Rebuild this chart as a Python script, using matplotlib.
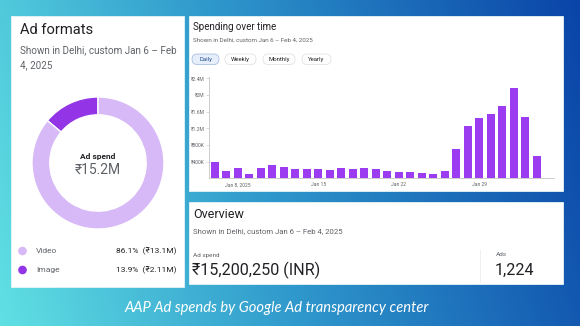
import numpy as np
import matplotlib.pyplot as plt
from matplotlib.patches import Rectangle, FancyBboxPatch, Circle
from matplotlib.colors import LinearSegmentedColormap

plt.rcParams['font.family'] = ['Roboto', 'DejaVu Sans']

W, H = 580, 326  # canvas size in pixels

# -----------------------------------------------------------------------
# Data
# -----------------------------------------------------------------------
formats = ["Image", "Video"]
format_share = [13.9, 86.1]
format_amount = ["₹2.11M", "₹13.1M"]
format_colors = ["#9334e6", "#d6b9f6"]
total_short = "₹15.2M"

day_labels = ["Jan 6", "Jan 7", "Jan 8", "Jan 9", "Jan 10", "Jan 11", "Jan 12",
              "Jan 13", "Jan 14", "Jan 15", "Jan 16", "Jan 17", "Jan 18",
              "Jan 19", "Jan 20", "Jan 21", "Jan 22", "Jan 23", "Jan 24",
              "Jan 25", "Jan 26", "Jan 27", "Jan 28", "Jan 29", "Jan 30",
              "Jan 31", "Feb 1", "Feb 2", "Feb 3", "Feb 4"]
daily_spend_k = [392, 184, 240, 96, 240, 312, 280, 216, 224, 216, 208, 256,
                 232, 240, 232, 184, 144, 152, 136, 112, 176, 696, 1248, 1456,
                 1544, 1728, 2168, 1464, 544, 0]
tick_days = ["Jan 8", "Jan 15", "Jan 22", "Jan 29"]
tick_text = ["Jan 8, 2025", "Jan 15", "Jan 22", "Jan 29"]
ytick_values_k = [400, 800, 1200, 1600, 2000, 2400]
ytick_text = ["₹400K", "₹800K", "₹1.2M", "₹1.6M", "₹2M", "₹2.4M"]
periods = ["Daily", "Weekly", "Monthly", "Yearly"]

total_spend = "₹15,200,250 (INR)"
ads_count = "1,224"
subtitle = "Shown in Delhi, custom Jan 6 – Feb 4, 2025"
caption = "AAP Ad spends by Google Ad transparency center"

DARK = "#202124"
GREY = "#5f6368"
BAR = "#9b3cf0"


def fx(x):
    return x / W


def fy(y):
    return 1 - y / H


fig = plt.figure(figsize=(W / 100, H / 100), dpi=100)

# background canvas in pixel coordinates
bg = fig.add_axes([0, 0, 1, 1], zorder=-10)
bg.set_xlim(0, W)
bg.set_ylim(H, 0)
bg.axis("off")
xx, yy = np.meshgrid(np.linspace(0, 1, 300), np.linspace(0, 1, 170))
grad = 0.86 * xx + 0.14 * (1 - yy)
cmap = LinearSegmentedColormap.from_list(
    "bg", [(0, "#60e0e3"), (0.45, "#2f98cc"), (1, "#0a44a8")])
bg.imshow(grad, cmap=cmap, extent=(0, W, H, 0), aspect="auto", vmin=0, vmax=1)

# cards
for x0, y0, x1, y1 in [(11, 16, 184, 287), (189, 16, 563, 191), (189, 202, 563, 284)]:
    bg.add_patch(Rectangle((x0, y0), x1 - x0, y1 - y0, facecolor="white",
                           edgecolor="#e6f4f7", lw=0.6))

# --- Ad formats card ---
bg.text(20, 30, "Ad formats", fontsize=10.6, color=DARK, va="center")
bg.text(20, 50, "Shown in Delhi, custom Jan 6 – Feb", fontsize=7.1, color=GREY, va="center")
bg.text(20, 65, "4, 2025", fontsize=7.1, color=GREY, va="center")

cx, cy, r = 98, 163, 66
dax = fig.add_axes([fx(cx - r), fy(cy + r), 2 * r / W, 2 * r / H])
dax.pie(format_share, colors=format_colors, startangle=90, counterclock=True,
        wedgeprops=dict(width=0.27, edgecolor="white", linewidth=1))
dax.set_xlim(-1, 1)
dax.set_ylim(-1, 1)
dax.set_aspect("equal")
dax.axis("off")
bg.text(cx, 156, "Ad spend", fontsize=6, fontweight="bold", color=DARK,
        ha="center", va="center")
bg.text(cx, 170, total_short, fontsize=10, color=GREY, ha="center", va="center")

for i, row_y in [(1, 251), (0, 270)]:
    bg.add_patch(Circle((22.5, row_y), 3.6, color=format_colors[i]))
    bg.text(36, row_y, formats[i], fontsize=6, color=GREY, va="center")
    bg.text(176, row_y, f"{format_share[i]}%  ({format_amount[i]})", fontsize=6,
            color=DARK, ha="right", va="center")

# --- Spending over time card ---
bg.text(193, 27, "Spending over time", fontsize=7, color=DARK, va="center")
bg.text(193, 40, subtitle, fontsize=4.5, color=GREY, va="center")
pill_x = [(192, 219), (225, 256), (263, 295), (302, 331)]
for i, (p0, p1) in enumerate(pill_x):
    active = i == 0
    bg.add_patch(FancyBboxPatch((p0, 54), p1 - p0, 10.5,
                                boxstyle="round,pad=0,rounding_size=5.2",
                                facecolor="#e6eefb" if active else "white",
                                edgecolor="#a9bfe3" if active else "#e3e3e3", lw=0.6))
    bg.text((p0 + p1) / 2, 59.3, periods[i], fontsize=4.3,
            color="#1f4e8c" if active else DARK, ha="center", va="center")

bax = fig.add_axes([fx(209), fy(178.3), 345 / W, 101.6 / H])
pos = np.arange(len(day_labels))
bax.bar(pos, np.array(daily_spend_k) * 1000, width=0.66, color=BAR)
bax.set_xlim(-0.5, len(day_labels) - 0.5)
bax.set_ylim(0, 2.44e6)
bax.set_yticks(np.array(ytick_values_k) * 1000)
bax.set_yticklabels(ytick_text)
bax.set_xticks([day_labels.index(d) for d in tick_days])
bax.set_xticklabels(tick_text)
bax.tick_params(axis="y", labelsize=3.6, labelcolor=GREY, length=2, width=0.4,
                color="#bdbdbd", pad=1)
bax.tick_params(axis="x", labelsize=3.6, labelcolor=GREY, length=0, pad=3)
for side in ["top", "right"]:
    bax.spines[side].set_visible(False)
for side in ["left", "bottom"]:
    bax.spines[side].set_color("#c4c4c4")
    bax.spines[side].set_linewidth(0.6)

# --- Overview card ---
bg.text(193, 214.5, "Overview", fontsize=9, color=DARK, va="center")
bg.text(193, 231.5, subtitle, fontsize=5.6, color=GREY, va="center")
bg.text(193, 255, "Ad spend", fontsize=4.6, color=GREY, va="center")
bg.text(192, 270.5, total_spend, fontsize=11.6, color=DARK, va="center")
bg.plot([479.5, 479.5], [250, 282], color="#ececec", lw=0.6)
bg.text(496, 255, "Ads", fontsize=4.6, color=GREY, va="center")
bg.text(495, 270.5, ads_count, fontsize=11.6, color=DARK, va="center")

# caption
bg.text(277, 308, caption, fontsize=10.6, color="white", style="italic",
        family=["Lato", "DejaVu Sans"], ha="center", va="center")

fig.savefig("out.png", dpi=100)
